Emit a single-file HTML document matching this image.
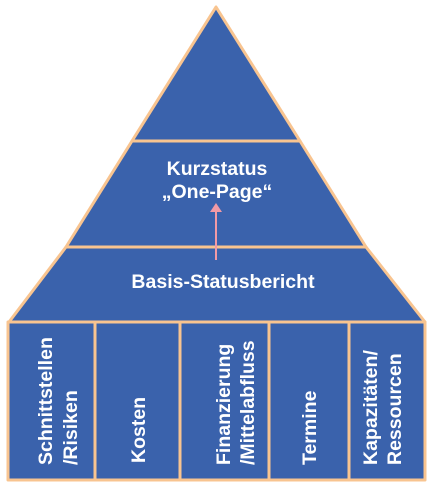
<!DOCTYPE html>
<html><head><meta charset="utf-8"><style>
body{margin:0;background:#fff;width:433px;height:488px;overflow:hidden}
svg text{font-family:"Liberation Sans",Arial,sans-serif;font-weight:bold;fill:#fff}
</style></head><body>
<svg width="433" height="488" viewBox="0 0 433 488">
<g fill="#3a62ac" stroke="#f8c490" stroke-width="3" stroke-linejoin="round">
<polygon points="216,7 132,141 300,141"/>
<polygon points="132,141 300,141 366,247 66,247"/>
<polygon points="66,247 366,247 425,322 9,322"/>
<rect x="8" y="322" width="87" height="158"/>
<rect x="95" y="322" width="85" height="158"/>
<rect x="180" y="322" width="89" height="158"/>
<rect x="269" y="322" width="80" height="158"/>
<rect x="349" y="322" width="76" height="158"/>
</g>
<text x="217" y="175" font-size="19.5" text-anchor="middle">Kurzstatus</text>
<text x="217" y="198" font-size="19.5" text-anchor="middle">„One-Page“</text>
<text x="223" y="288" font-size="19.5" text-anchor="middle">Basis-Statusbericht</text>
<line x1="216" y1="260" x2="216" y2="212" stroke="#f19aa6" stroke-width="2"/>
<polygon points="210,212 222,212 216,203" fill="#f19aa6"/>
<g font-size="19.5">
<text transform="translate(52,465) rotate(-90)">Schnittstellen</text>
<text transform="translate(77,465) rotate(-90)">/Risiken</text>
<text transform="translate(145,463) rotate(-90)">Kosten</text>
<text transform="translate(230,465) rotate(-90)">Finanzierung</text>
<text transform="translate(254,465) rotate(-90)">/Mittelabfluss</text>
<text transform="translate(316,465) rotate(-90)">Termine</text>
<text transform="translate(377,465) rotate(-90)">Kapazitäten/</text>
<text transform="translate(401,465) rotate(-90)">Ressourcen</text>
</g>
</svg>
</body></html>
